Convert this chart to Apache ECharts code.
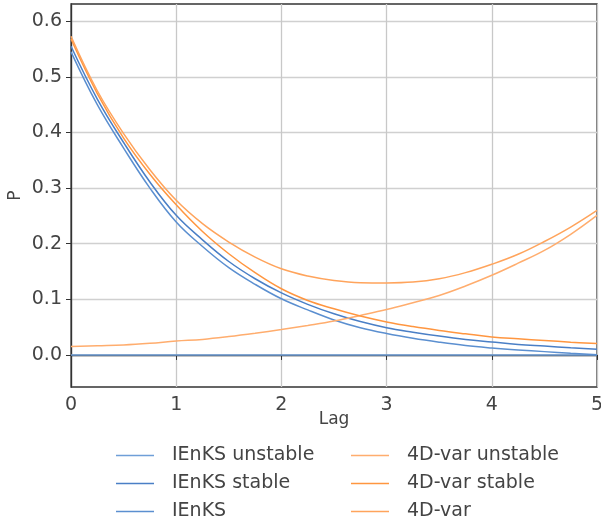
<!DOCTYPE html>
<html>
<head>
<meta charset="utf-8">
<script src="https://cdn.jsdelivr.net/npm/echarts@6/dist/echarts.min.js"></script>
<style>html,body{margin:0;padding:0;background:#fff}#c{width:601px;height:525px}</style>
</head>
<body>
<div id="c"></div>
<script>
const lags = [0,0.25,0.5,0.75,1,1.25,1.5,1.75,2,2.25,2.5,2.75,3,3.25,3.5,3.75,4,4.25,4.5,4.75,5];
const ienksUnstable = [0,0,0,0,0,0,0,0,0,0,0,0,0,0,0,0,0,0,0,0,0];
const ienksStable = [0.555,0.46,0.382,0.311,0.251,0.207,0.168,0.137,0.1115,0.091,0.074,0.06,0.049,0.041,0.034,0.028,0.0234,0.019,0.016,0.013,0.0103];
const ienks = [0.545,0.45,0.372,0.30,0.239,0.195,0.157,0.127,0.101,0.081,0.063,0.049,0.0385,0.030,0.023,0.017,0.0126,0.009,0.006,0.003,0.0005];
const varUnstable = [0.015,0.0165,0.018,0.021,0.025,0.028,0.033,0.039,0.0457,0.053,0.061,0.071,0.0816,0.094,0.107,0.124,0.1433,0.165,0.188,0.217,0.251];
const varStable = [0.568,0.47,0.39,0.325,0.270,0.222,0.182,0.148,0.119,0.098,0.083,0.070,0.0594,0.051,0.044,0.038,0.0324,0.029,0.026,0.023,0.0205];
const var4d = [0.573,0.475,0.398,0.333,0.278,0.236,0.203,0.176,0.155,0.142,0.134,0.130,0.1295,0.131,0.137,0.148,0.163,0.181,0.204,0.23,0.26];
const yTicks = [0,0.1,0.2,0.3,0.4,0.5,0.6];

const pair = arr => lags.map((x,i)=>[x,arr[i]]);
const BLUE1 = '#6f9fd8', BLUE2 = '#4a7fc6', BLUE3 = '#5b8fd0';
const OR1 = '#ffad6e', OR2 = '#ff9640', OR3 = '#ffa45c';
const textColor = '#444';
const font = 'DejaVu Sans';

function mk(name, data, color){
  return {name, type:'line', data:pair(data), symbol:'none', smooth:0.4, showSymbol:false,
    lineStyle:{width:1.5, color}, itemStyle:{color}, z:3};
}
const legendCommon = {orient:'vertical', top:446, height:100, padding:0, itemWidth:38, itemHeight:1.6, itemGap:9, icon:'rect',
  textStyle:{fontSize:19, color:textColor, fontFamily:font, padding:[0,0,0,13]}};
const chart = echarts.init(document.getElementById('c'));
chart.setOption({
  animation:false,
  textStyle:{fontFamily:font},
  grid:{left:71, right:4, top:4, bottom:138, show:true, borderColor:'#333', borderWidth:1.3, containLabel:false, outerBoundsMode:'none'},
  xAxis:{type:'value', min:0, max:5, interval:1,
    name:'Lag', nameLocation:'middle', nameGap:24, nameMoveOverlap:false, nameTextStyle:{fontSize:17, color:textColor, fontFamily:font},
    axisLine:{lineStyle:{color:'#333', width:1.3}},
    axisTick:{show:true, length:5, inside:false, lineStyle:{color:'#333'}},
    axisLabel:{fontSize:19, color:textColor, margin:9, fontFamily:font},
    splitLine:{show:true, lineStyle:{color:'#c8c8c8', width:1.3}}},
  yAxis:{type:'value', min:-0.0576, max:0.631,
    name:'P', nameLocation:'middle', nameGap:47, nameMoveOverlap:false, nameRotate:90, nameTextStyle:{fontSize:17, color:textColor, fontFamily:font},
    axisLine:{show:true, lineStyle:{color:'#333', width:1.3}},
    axisTick:{show:true, length:5, customValues:yTicks, lineStyle:{color:'#333'}},
    axisLabel:{fontSize:19, color:textColor, margin:9, fontFamily:font, customValues:yTicks, formatter:v=>v.toFixed(1)},
    splitLine:{show:true, lineStyle:{color:'#d0d0d0', width:1.3}}},
  legend:[
    Object.assign({data:['IEnKS unstable','IEnKS stable','IEnKS'], left:116}, legendCommon),
    Object.assign({data:['4D-var unstable','4D-var stable','4D-var'], left:351}, legendCommon)
  ],
  series:[
    mk('IEnKS unstable', ienksUnstable, BLUE1),
    mk('IEnKS stable', ienksStable, BLUE2),
    mk('IEnKS', ienks, BLUE3),
    mk('4D-var unstable', varUnstable, OR1),
    mk('4D-var stable', varStable, OR2),
    mk('4D-var', var4d, OR3)
  ]
});
</script>
</body>
</html>
